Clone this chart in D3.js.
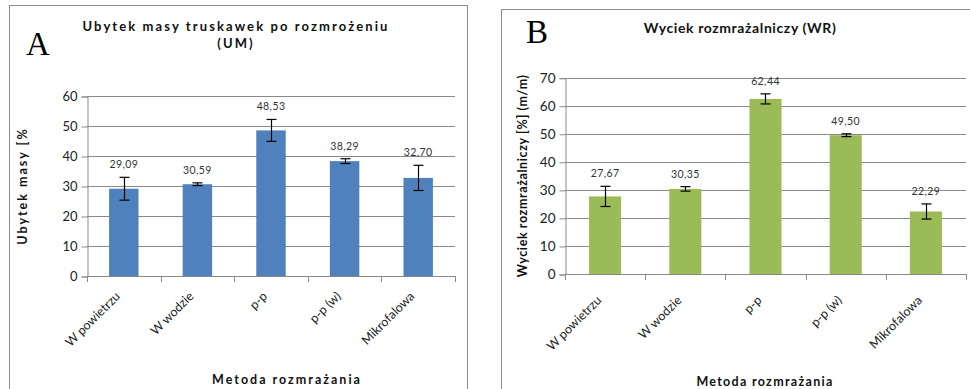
<!DOCTYPE html>
<html>
<head>
<meta charset="utf-8">
<script src="https://cdn.jsdelivr.net/npm/d3@7"></script>
<style>
  body { margin: 0; background: #fff; }
  text { font-family: Lato, "Liberation Sans", sans-serif; }
</style>
</head>
<body>
<svg id="chart" width="970" height="389"></svg>
<script>
const categories = ["W powietrzu", "W wodzie", "p-p", "p-p (w)", "Mikrofalowa"];

// A: ubytek masy (UM)
const umValues = [29.09, 30.59, 48.53, 38.29, 32.70];
const umErrors = [3.8, 0.45, 3.65, 0.8, 4.2];
const umTicks = [0, 10, 20, 30, 40, 50, 60];

// B: wyciek rozmrażalniczy (WR)
const wrValues = [27.67, 30.35, 62.44, 49.50, 22.29];
const wrErrors = [3.6, 0.8, 1.8, 0.5, 2.7];
const wrTicks = [0, 10, 20, 30, 40, 50, 60, 70];

const svg = d3.select("#chart");
const fmt = v => d3.format(".2f")(v).replace(".", ",");

function drawPanel(cfg) {
  const g = svg.append("g");

  // outer frame
  g.append("rect")
    .attr("x", cfg.frame[0] + 0.5).attr("y", cfg.frame[1] + 0.5)
    .attr("width", cfg.frame[2]).attr("height", cfg.frame[3])
    .attr("fill", "#fff").attr("stroke", "#8c8c8c");

  const x = d3.scaleBand()
    .domain(categories)
    .range([cfg.left, cfg.right])
    .paddingInner(0.6)
    .paddingOuter(0.3);

  const y = d3.scaleLinear()
    .domain([0, d3.max(cfg.ticks)])
    .range([cfg.bottom, cfg.top]);

  // gridlines
  g.append("g")
    .selectAll("line")
    .data(cfg.ticks.slice(1))
    .join("line")
    .attr("x1", cfg.left).attr("x2", cfg.right)
    .attr("y1", d => Math.round(y(d)) + 0.5).attr("y2", d => Math.round(y(d)) + 0.5)
    .attr("stroke", "#8a8a8a");

  // y axis
  const yAxis = g.append("g")
    .attr("transform", `translate(${cfg.left + 0.5},0.5)`)
    .call(d3.axisLeft(y).tickValues(cfg.ticks).tickSize(6).tickPadding(4).tickFormat(d3.format("d")));
  yAxis.select(".domain").attr("stroke", "#8a8a8a");
  yAxis.selectAll(".tick line").attr("stroke", "#8a8a8a");
  yAxis.selectAll(".tick text")
    .attr("font-size", cfg.tickSize)
    .attr("fill", "#222")
    .style("font-family", "Lato, sans-serif");

  // bars
  g.append("g")
    .selectAll("rect")
    .data(cfg.values)
    .join("rect")
    .attr("x", (d, i) => x(categories[i]))
    .attr("y", d => y(d))
    .attr("width", x.bandwidth())
    .attr("height", d => y(0) - y(d))
    .attr("fill", cfg.color);

  // x axis (ticks between categories)
  const bounds = d3.range(categories.length + 1).map(i => cfg.left + (cfg.right - cfg.left) * i / categories.length);
  g.append("line")
    .attr("x1", cfg.left).attr("x2", cfg.right)
    .attr("y1", Math.round(cfg.bottom) + 0.5).attr("y2", Math.round(cfg.bottom) + 0.5)
    .attr("stroke", "#8a8a8a");
  g.append("g")
    .selectAll("line")
    .data(bounds)
    .join("line")
    .attr("x1", d => Math.round(d) + 0.5).attr("x2", d => Math.round(d) + 0.5)
    .attr("y1", cfg.bottom).attr("y2", cfg.bottom + 6)
    .attr("stroke", "#8a8a8a");

  // error bars
  const err = g.append("g").attr("stroke", "#000").attr("stroke-width", 1.2);
  cfg.values.forEach((v, i) => {
    const cx = Math.round(x(categories[i]) + x.bandwidth() / 2) + 0.5;
    const e = cfg.errors[i];
    err.append("line").attr("x1", cx).attr("x2", cx).attr("y1", y(v + e)).attr("y2", y(v - e));
    err.append("line").attr("x1", cx - 5).attr("x2", cx + 5).attr("y1", y(v + e)).attr("y2", y(v + e));
    err.append("line").attr("x1", cx - 5).attr("x2", cx + 5).attr("y1", y(v - e)).attr("y2", y(v - e));
  });

  // value labels
  g.append("g")
    .selectAll("text")
    .data(cfg.values)
    .join("text")
    .attr("x", (d, i) => x(categories[i]) + x.bandwidth() / 2)
    .attr("y", (d, i) => y(d + cfg.errors[i]) - 9)
    .attr("text-anchor", "middle")
    .attr("font-size", 10.5)
    .attr("fill", "#333")
    .attr("letter-spacing", 0.4)
    .text(d => fmt(d));

  // category labels
  g.append("g")
    .selectAll("text")
    .data(categories)
    .join("text")
    .attr("transform", d => `translate(${x(d) + x.bandwidth() / 2 - 3},${cfg.bottom + cfg.catDy}) rotate(-45)`)
    .attr("text-anchor", "end")
    .attr("font-size", 12.5)
    .attr("fill", "#222")
    .text(d => d);

  // titles
  cfg.title.forEach((t, i) => {
    g.append("text")
      .attr("x", cfg.titleX).attr("y", cfg.titleY + i * 17)
      .attr("text-anchor", "middle")
      .attr("font-size", cfg.titleSize)
      .attr("font-weight", "bold")
      .attr("letter-spacing", cfg.titleSpacing)
      .attr("fill", "#111")
      .text(t);
  });

  g.append("text")
    .attr("transform", `translate(${cfg.yTitleX},${(cfg.top + cfg.bottom) / 2}) rotate(-90)`)
    .attr("text-anchor", "middle")
    .attr("font-size", 12.5)
    .attr("font-weight", "bold")
    .attr("letter-spacing", cfg.yTitleSpacing)
    .attr("fill", "#111")
    .text(cfg.yTitle);

  g.append("text")
    .attr("x", cfg.xTitleX).attr("y", cfg.xTitleY)
    .attr("text-anchor", "middle")
    .attr("font-size", 12.5)
    .attr("font-weight", "bold")
    .attr("letter-spacing", cfg.xTitleSpacing)
    .attr("fill", "#111")
    .text("Metoda rozmrażania");

  // panel letter
  g.append("text")
    .attr("x", cfg.letterX).attr("y", cfg.letterY)
    .style("font-family", "'Liberation Serif', 'DejaVu Serif', serif")
    .attr("font-size", 33)
    .attr("fill", "#000")
    .text(cfg.letter);
}

drawPanel({
  frame: [9, 5, 458, 400],
  left: 87, right: 455, top: 96, bottom: 276,
  values: umValues, errors: umErrors, ticks: umTicks,
  color: "#4f81bd", tickSize: 13, catDy: 21,
  title: ["Ubytek masy truskawek po rozmrożeniu", "(UM)"],
  titleX: 236, titleY: 31, titleSize: 13, titleSpacing: 2.1,
  yTitle: "Ubytek masy [%", yTitleX: 27, yTitleSpacing: 2,
  xTitleX: 287, xTitleY: 384, xTitleSpacing: 2,
  letter: "A", letterX: 26, letterY: 55
});

drawPanel({
  frame: [501, 9, 480, 400],
  left: 565, right: 966, top: 77.7, bottom: 274,
  values: wrValues, errors: wrErrors, ticks: wrTicks,
  color: "#9bbb59", tickSize: 13.5, catDy: 27,
  title: ["Wyciek rozmrażalniczy (WR)"],
  titleX: 740, titleY: 33, titleSize: 14, titleSpacing: 0.6,
  yTitle: "Wyciek rozmrażalniczy [%] (m/m)", yTitleX: 527, yTitleSpacing: 0.6,
  xTitleX: 765, xTitleY: 386, xTitleSpacing: 1.3,
  letter: "B", letterX: 526, letterY: 43
});
</script>
</body>
</html>
